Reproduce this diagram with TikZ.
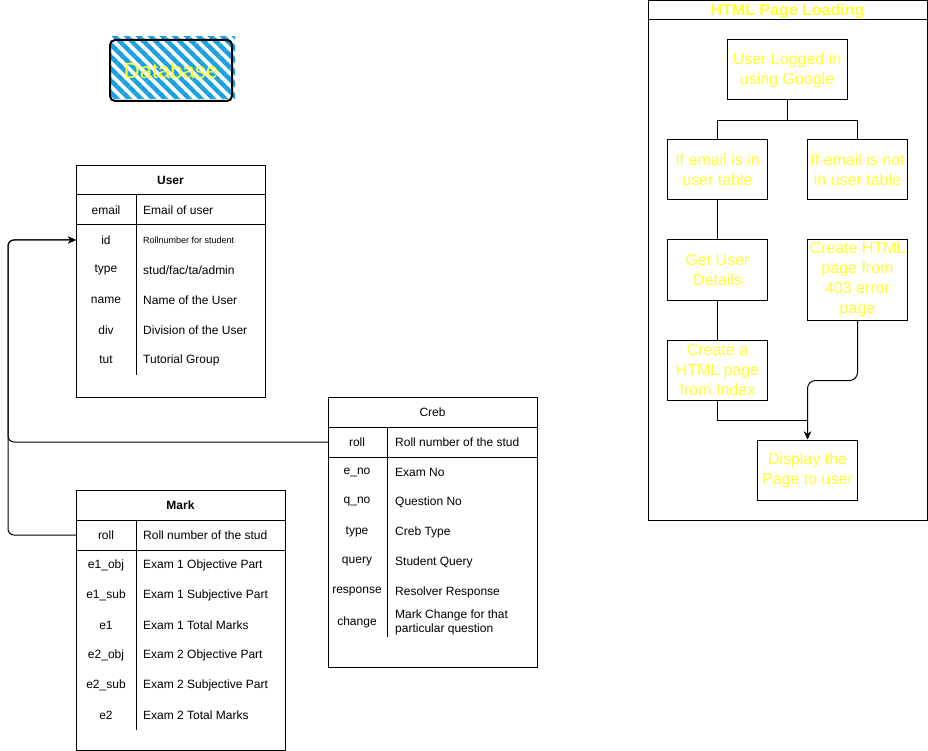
\documentclass[tikz,border=0pt]{standalone}
\usepackage{fontspec}
\setmainfont{Liberation Sans}
\usetikzlibrary{arrows.meta,patterns.meta}

\definecolor{db blue}{RGB}{27,161,226}
\definecolor{label yellow}{RGB}{255,255,51}
\tikzset{
  tablebox/.style={draw, line width=1pt, anchor=north west, inner sep=0pt},
  header/.style={font=\fontsize{12}{14}\selectfont, inner sep=0pt},
  fieldkey/.style={font=\fontsize{12}{14}\selectfont, inner sep=0pt},
  fieldval/.style={font=\fontsize{12}{14}\selectfont, anchor=west, align=left, inner sep=0pt},
  hatch/.style={pattern={Lines[angle=-45,distance=8.5pt,line width=4.5pt]}, pattern color=db blue}
  }
\tikzstyle{rule} = [draw, line width=1pt]
\tikzstyle{link} = [draw, line width=1pt, rounded corners=6pt, -{Stealth[length=8pt,width=7pt]}]
\tikzstyle{flow} = [draw, line width=1pt]
\tikzstyle{flowbox} = [draw, line width=1pt, minimum width=100pt, minimum height=60pt, inner sep=1pt, align=center, text=label yellow, font=\fontsize{16}{20}\selectfont]

\begin{document}
\begin{tikzpicture}[x=1pt,y=-1pt]
    \useasboundingbox (0,0) rectangle (928,751);

    % The database legend
    \fill[hatch] (111,37) rectangle (235,99);
    \node[draw, line width=2pt, rounded corners=5pt, minimum width=122pt, minimum height=61pt, text=label yellow, font=\fontsize{22}{26}\selectfont] (db) at (171,70.5) {Database};

    % User table
    \node[tablebox, minimum width=189pt, minimum height=232pt] (user) at (76,165) {};
    \node[header] (user-title) at (170.5,180) {\bfseries User};
    \draw[rule] ([yshift=-30pt]user.north west) -- ([yshift=-30pt]user.north east);
    \draw[rule] ([yshift=-60pt]user.north west) -- ([yshift=-60pt]user.north east);
    \draw[rule] ([xshift=60pt,yshift=-30pt]user.north west) -- ++(0,180);
    \foreach \key/\val [count=\i] in {email/Email of user, id/{\fontsize{9}{11}\selectfont Rollnumber for student}, type/{stud/fac/ta/admin}, name/Name of the User, div/Division of the User, tut/Tutorial Group} {
      \node[fieldkey] (user-key\i) at (106,180+30*\i) {\key};
      \node[fieldval] (user-val\i) at (143,180+30*\i) {\val};
    }

    % Creb table
    \node[tablebox, minimum width=209pt, minimum height=270pt] (creb) at (328,397) {};
    \node[header] (creb-title) at (432.5,412) {Creb};
    \draw[rule] ([yshift=-30pt]creb.north west) -- ([yshift=-30pt]creb.north east);
    \draw[rule] ([yshift=-60pt]creb.north west) -- ([yshift=-60pt]creb.north east);
    \draw[rule] ([xshift=59pt,yshift=-30pt]creb.north west) -- ++(0,210);
    \foreach \key/\val [count=\i] in {roll/Roll number of the stud, e\_no/Exam No, q\_no/Question No, type/Creb Type, query/Student Query, response/Resolver Response, change/{Mark Change for that\\particular question}} {
      \node[fieldkey] (creb-key\i) at (357,412+30*\i) {\key};
      \node[fieldval] (creb-val\i) at (395,412+30*\i) {\val};
    }

    % Mark table
    \node[tablebox, minimum width=209pt, minimum height=260pt] (mark) at (76,490) {};
    \node[header] (mark-title) at (180.5,505) {\bfseries Mark};
    \draw[rule] ([yshift=-30pt]mark.north west) -- ([yshift=-30pt]mark.north east);
    \draw[rule] ([yshift=-60pt]mark.north west) -- ([yshift=-60pt]mark.north east);
    \draw[rule] ([xshift=60pt,yshift=-30pt]mark.north west) -- ++(0,210);
    \foreach \key/\val [count=\i] in {roll/Roll number of the stud, e1\_obj/Exam 1 Objective Part, e1\_sub/Exam 1 Subjective Part, e1/Exam 1 Total Marks, e2\_obj/Exam 2 Objective Part, e2\_sub/Exam 2 Subjective Part, e2/Exam 2 Total Marks} {
      \node[fieldkey] (mark-key\i) at (106,505+30*\i) {\key};
      \node[fieldval] (mark-val\i) at (143,505+30*\i) {\val};
    }

    % Foreign keys back to the user id
    \coordinate (bus) at (8,0);
    \path[link] (creb.west |- creb-key1) -| (bus |- user-key2) -- (user.west |- user-key2);
    \path[link] (mark.west |- mark-key1) -| (bus |- user-key2) -- (user.west |- user-key2);

    % HTML page loading panel
    \node[draw, line width=1pt, minimum width=279pt, minimum height=519pt] (htmlPanel) at (787.5,260.5) {};
    \node[text=label yellow, font=\fontsize{16}{18}\selectfont\bfseries] (htmlTitle) at (787.5,11) {HTML Page Loading};
    \draw[rule] ([yshift=-19pt]htmlPanel.north west) -- ([yshift=-19pt]htmlPanel.north east);

    \node[flowbox, minimum width=120pt] (login) at (787,70) {User Logged in\\using Google};
    \node[flowbox] (inTable) at (717.5,170) {If email is in\\user table};
    \node[flowbox] (notInTable) at (857.5,170) {If email is not\\in user table};
    \node[flowbox] (getDetails) at (717.5,270) {Get User\\Details};
    \node[flowbox, minimum height=80pt] (errorPage) at (857.5,280) {Create HTML\\page from\\403 error\\page};
    \node[flowbox] (indexPage) at (717.5,370) {Create a\\HTML page\\from Index};
    \node[flowbox] (display) at (807.5,470) {Display the\\Page to user};

    % The connections between them
    \path[flow] (login.south) -- ++(0,20) -| (inTable.north);
    \path[flow] (login.south) -- ++(0,20) -| (notInTable.north);
    \foreach \source/\sink in {inTable/getDetails, getDetails/indexPage} {
      \path[flow] (\source) -- (\sink);
    }
    \path[link, rounded corners=8pt] (errorPage.south) -- ++(0,60) -| (display.north);
    \path[link, rounded corners=0pt] (indexPage.south) -- ++(0,20) -| (display.north);
\end{tikzpicture}
\end{document}
